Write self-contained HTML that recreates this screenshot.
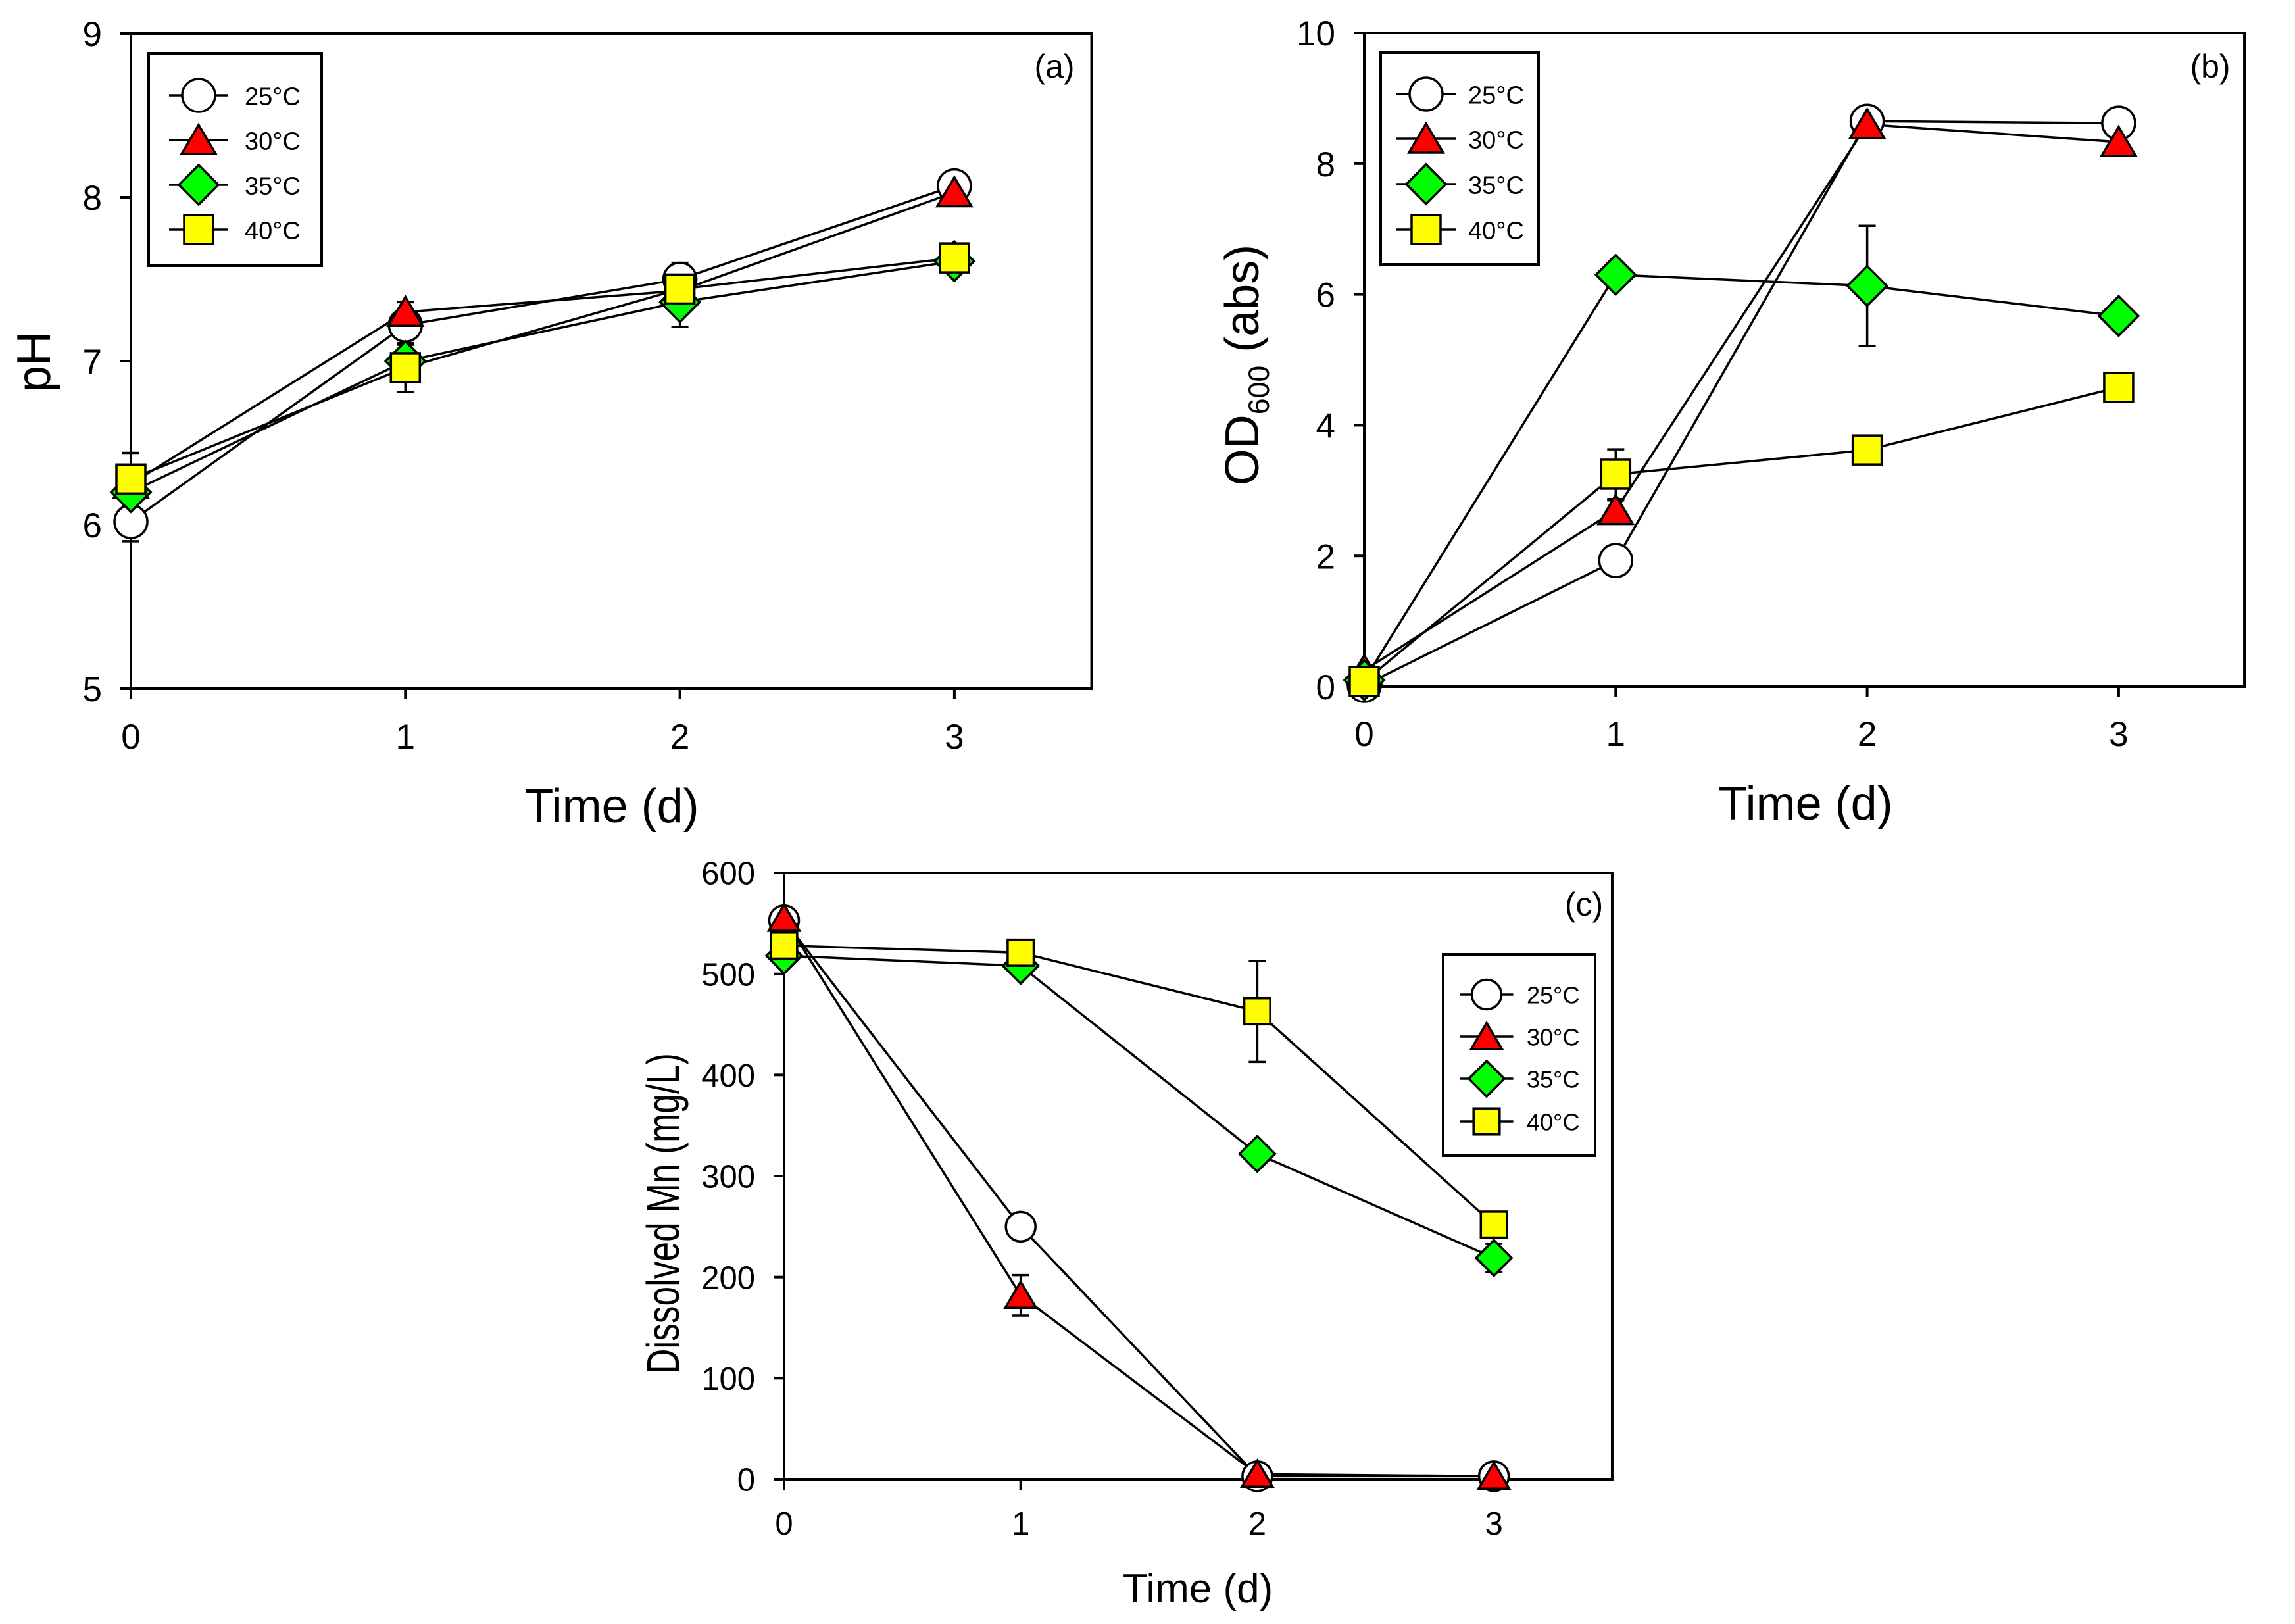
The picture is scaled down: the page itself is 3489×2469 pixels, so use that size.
<!DOCTYPE html>
<html><head><meta charset="utf-8">
<style>
html,body{margin:0;padding:0;background:#fff;}
svg{display:block;}
text{font-family:"Liberation Sans",Arial,sans-serif;fill:#000;}
</style></head>
<body>
<svg id="fig" width="3489" height="2469" viewBox="0 0 3489 2469" xmlns="http://www.w3.org/2000/svg">
<rect x="0" y="0" width="3489" height="2469" fill="#fff"/>
</svg>
<script>
// ---- data ----
const days = [0, 1, 2, 3];
const seriesNames = ["25\u00B0C", "30\u00B0C", "35\u00B0C", "40\u00B0C"];
const seriesKeys = ["25c", "30c", "35c", "40c"];
// panel (a) pH
const phTicks = [5, 6, 7, 8, 9];
const ph25 = [6.02, 7.22, 7.5, 8.07];
const ph30 = [6.25, 7.3, 7.43, 8.03];
const ph35 = [6.2, 7.0, 7.36, 7.61];
const ph40 = [6.28, 6.96, 7.44, 7.63];
const phErr25 = [0.12, 0.05, 0.1, 0.03];
const phErr30 = [0.05, 0.06, 0.03, 0.03];
const phErr35 = [0.1, 0.1, 0.15, 0.03];
const phErr40 = [0.16, 0.15, 0.05, 0.04];
// panel (b) OD600
const odTicks = [0, 2, 4, 6, 8, 10];
const od25 = [0.02, 1.93, 8.65, 8.62];
const od30 = [0.25, 2.7, 8.6, 8.33];
const od35 = [0.1, 6.3, 6.13, 5.67];
const od40 = [0.08, 3.25, 3.62, 4.58];
const odErr25 = [0, 0, 0.05, 0];
const odErr30 = [0, 0.15, 0, 0];
const odErr35 = [0, 0, 0.92, 0];
const odErr40 = [0, 0.38, 0, 0];
// panel (c) dissolved Mn
const mnTicks = [0, 100, 200, 300, 400, 500, 600];
const mn25 = [553, 250, 3, 3];
const mn30 = [555, 182, 5, 3];
const mn35 = [518, 508, 322, 219];
const mn40 = [528, 521, 463, 252];
const mnErr25 = [5, 0, 0, 0];
const mnErr30 = [5, 20, 0, 0];
const mnErr35 = [5, 0, 0, 14];
const mnErr40 = [5, 0, 50, 0];
const xTicks = [0, 1, 2, 3];

const NS = "http://www.w3.org/2000/svg";
const svg = document.getElementById("fig");
function mk(tag, attrs, parent) {
  const e = document.createElementNS(NS, tag);
  for (const k in attrs) e.setAttribute(k, attrs[k]);
  (parent || svg).appendChild(e);
  return e;
}
const fills = ["#ffffff", "#ff0000", "#00ff00", "#ffff00"];

function marker(g, type, cx, cy, s) {
  let e;
  if (type === 0) e = mk("circle", {cx: cx, cy: cy, r: 25 * s}, g);
  else if (type === 1) e = mk("polygon", {points: `${cx},${cy - 23 * s} ${cx + 26 * s},${cy + 21 * s} ${cx - 26 * s},${cy + 21 * s}`}, g);
  else if (type === 2) e = mk("polygon", {points: `${cx},${cy - 30 * s} ${cx + 30 * s},${cy} ${cx},${cy + 30 * s} ${cx - 30 * s},${cy}`}, g);
  else e = mk("rect", {x: cx - 22 * s, y: cy - 22 * s, width: 44 * s, height: 44 * s}, g);
  e.setAttribute("fill", fills[type]);
  e.setAttribute("stroke", "#000");
  e.setAttribute("stroke-width", 3.5);
  return e;
}

function panel(p) {
  const g = mk("g", {});
  
  
  const xs = v => p.L + v * p.xu;
  const ys = v => p.B - (v - p.ymin) / (p.ymax - p.ymin) * (p.B - p.T);
  const R = p.L + 3.5 * p.xu;
  const fr = mk("rect", {x: p.L, y: p.T, width: R - p.L, height: p.B - p.T, fill: "none", stroke: "#000", "stroke-width": 4}, g);
  
  
  p.yTicks.forEach(t => {
    const y = ys(t);
    mk("line", {x1: p.L - 16, x2: p.L, y1: y, y2: y, stroke: "#000", "stroke-width": 4}, g);
    const tx = mk("text", {x: p.L - 44, y: y + p.tf * 0.36, "font-size": p.tf, "text-anchor": "end"}, g);
    tx.textContent = t;
    
    
  });
  xTicks.forEach(t => {
    const x = xs(t);
    mk("line", {x1: x, x2: x, y1: p.B, y2: p.B + 16, stroke: "#000", "stroke-width": 4}, g);
    const tx = mk("text", {x: x, y: p.xlb, "font-size": p.tf, "text-anchor": "middle"}, g);
    tx.textContent = t;
    
    
  });
  const xt = mk("text", {x: p.xtx, y: p.xty, "font-size": p.af, "text-anchor": "middle"}, g);
  xt.textContent = "Time (d)";
  
  
  const ya = {x: 0, y: 0, "font-size": p.yaf || p.af, "text-anchor": "middle", transform: `translate(${p.ytx},${p.yty}) rotate(-90)`};
  if (p.ylen) { ya.textLength = p.ylen; ya.lengthAdjust = "spacingAndGlyphs"; }
  const yt = mk("text", ya, g);
  if (p.sub) {
    yt.appendChild(document.createTextNode(p.ytitle));
    const s = mk("tspan", {"font-size": p.af * 0.62, dy: 16}, yt); s.textContent = p.sub;
    const r = mk("tspan", {dy: -16}, yt); r.textContent = "\u00A0" + p.ytitle2;
  } else yt.textContent = p.ytitle;
  
  
  const pl = mk("text", {x: p.plx, y: p.ply, "font-size": 50, "text-anchor": "middle"}, g);
  pl.textContent = p.label;
  
  
  p.series.forEach((vals, si) => {
    const sg = mk("g", {}, g);
    
    
    const pts = days.map((d, i) => xs(d) + "," + ys(vals[i])).join(" ");
    const ln = mk("polyline", {points: pts, fill: "none", stroke: "#000", "stroke-width": 3.5}, sg);
    
    
    days.forEach((d, i) => {
      const e = p.errs[si][i];
      if (e > 0) {
        const x = xs(d), y1 = ys(vals[i] - e), y2 = ys(vals[i] + e);
        const eb = mk("path", {d: `M${x},${y1}V${y2}M${x - 13},${y1}H${x + 13}M${x - 13},${y2}H${x + 13}`, stroke: "#000", "stroke-width": 3.5, fill: "none"}, sg);
        
        
      }
    });
  });
  p.series.forEach((vals, si) => {
    days.forEach((d, i) => {
      const m = marker(g, si, xs(d), ys(vals[i]), p.ms);
      
      
    });
  });
  const lg = mk("g", {}, g);
  
  
  mk("rect", {x: p.lg.x, y: p.lg.y, width: p.lg.w, height: p.lg.h, fill: "#fff", stroke: "#000", "stroke-width": 4}, lg);
  p.lg.rows.forEach((ry, si) => {
    const eg = mk("g", {}, lg);
    
    
    mk("line", {x1: p.lg.mx - 45 * p.ms, x2: p.lg.mx + 45 * p.ms, y1: ry, y2: ry, stroke: "#000", "stroke-width": 3.5}, eg);
    marker(eg, si, p.lg.mx, ry, p.ms);
    const t = mk("text", {x: p.lg.tx, y: ry + p.lg.f * 0.38, "font-size": p.lg.f}, eg);
    t.textContent = seriesNames[si];
  });
}

panel({name: "panel-a-ph", L: 199, T: 51, B: 1047, xu: 417.3, ymin: 5, ymax: 9, yTicks: phTicks,
  series: [ph25, ph30, ph35, ph40], errs: [phErr25, phErr30, phErr35, phErr40],
  tf: 53, xlb: 1138, af: 72, xtx: 930, xty: 1250, ytx: 76, yty: 550, ytitle: "pH",
  label: "(a)", plx: 1603, ply: 118, ms: 1,
  lg: {x: 226, y: 81, w: 263, h: 323, rows: [145, 213, 281, 349], mx: 302, tx: 372, f: 38}});

panel({name: "panel-b-od600", L: 2074, T: 50, B: 1044, xu: 382.3, ymin: 0, ymax: 10, yTicks: odTicks,
  series: [od25, od30, od35, od40], errs: [odErr25, odErr30, odErr35, odErr40],
  tf: 53, xlb: 1134, af: 72, xtx: 2745, xty: 1246, ytx: 1913, yty: 555, ytitle: "OD", sub: "600", ytitle2: "(abs)",
  label: "(b)", plx: 3360, ply: 118, ms: 1,
  lg: {x: 2099, y: 80, w: 240, h: 322, rows: [143, 211, 280, 349], mx: 2168, tx: 2232, f: 38}});

panel({name: "panel-c-dissolved-mn", L: 1192, T: 1327, B: 2249, xu: 359.7, ymin: 0, ymax: 600, yTicks: mnTicks,
  series: [mn25, mn30, mn35, mn40], errs: [mnErr25, mnErr30, mnErr35, mnErr40],
  tf: 49, xlb: 2333, af: 62, yaf: 70, ylen: 488, xtx: 1821, xty: 2436, ytx: 1032, yty: 1845, ytitle: "Dissolved Mn (mg/L)",
  label: "(c)", plx: 2408, ply: 1392, ms: 0.9,
  lg: {x: 2194, y: 1451, w: 231, h: 306, rows: [1512, 1576, 1640, 1705], mx: 2260, tx: 2321, f: 36}});
</script>
</body></html>
